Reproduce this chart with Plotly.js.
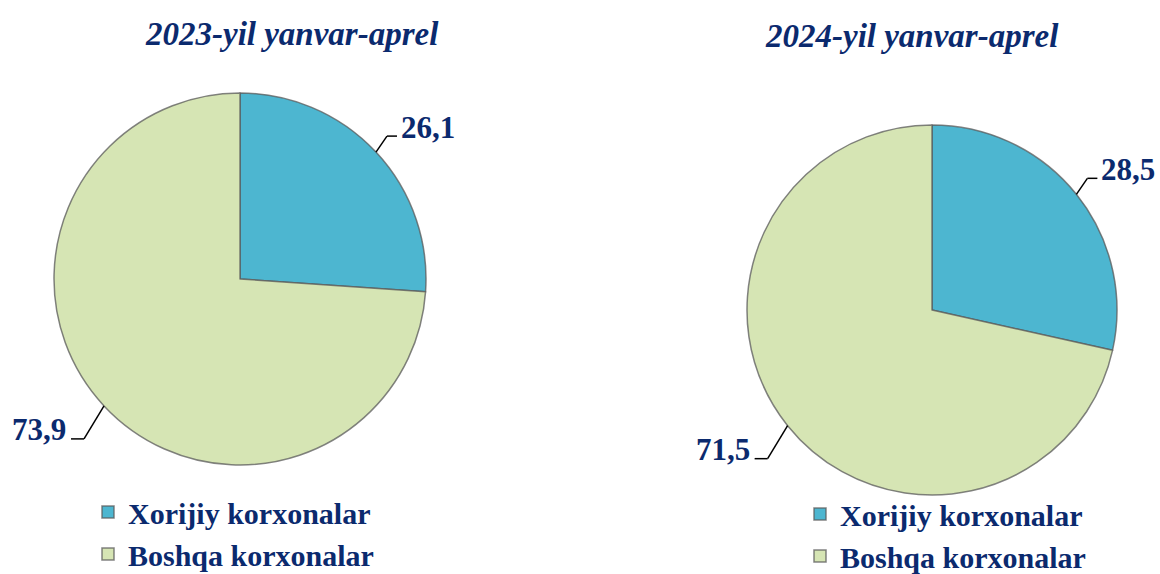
<!DOCTYPE html>
<html>
<head>
<meta charset="utf-8">
<script src="https://cdn.plot.ly/plotly-3.0.1.min.js"></script>
<style>html,body{margin:0;padding:0;background:#fff;}#chart{width:1160px;height:574px;}</style>
</head>
<body>
<div id="chart"></div>
<script>
// ---- data ----
const categories = ["Xorijiy korxonalar", "Boshqa korxonalar"];
const titles = ["2023-yil yanvar-aprel", "2024-yil yanvar-aprel"];
const values2023 = [26.1, 73.9];
const values2024 = [28.5, 71.5];

// ---- layout helpers ----
const W = 1160, H = 574;
const navy = "#0B2A6E";
const sliceColors = ["#4DB6D0", "#D6E5B4"];
const pies = [
  {vals: values2023, cx: 240, cy: 279, r: 186, title: titles[0], tx: 292, ty: 34, legend: "legend", group: "g2023"},
  {vals: values2024, cx: 932, cy: 310, r: 185, title: titles[1], tx: 912, ty: 36, legend: "legend2", group: "g2024"}
];
const px = x => x / W;
const py = y => 1 - y / H;

const data = [];
const shapes = [];
const annotations = [];

pies.forEach((p, i) => {
  data.push({
    type: "pie",
    labels: categories,
    values: p.vals,
    sort: false,
    direction: "clockwise",
    rotation: 0,
    textinfo: "none",
    marker: {colors: sliceColors, line: {color: "rgba(90,90,90,0.75)", width: 1.5}},
    domain: {x: [px(p.cx - p.r), px(p.cx + p.r)], y: [py(p.cy + p.r), py(p.cy - p.r)]},
    legend: p.legend,
    legendgroup: p.group,
    showlegend: true
  });
  annotations.push({
    text: p.title, xref: "paper", yref: "paper", x: px(p.tx), y: py(p.ty),
    xanchor: "center", yanchor: "middle", showarrow: false,
    font: {family: "Liberation Serif, Times New Roman, serif", size: 33, weight: "bold", style: "italic", color: navy}
  });
  const total = p.vals.reduce((a, b) => a + b, 0);
  let cum = 0;
  p.vals.forEach(v => {
    const th = 2 * Math.PI * (cum + v / 2) / total;
    cum += v;
    const s = Math.sin(th), c = Math.cos(th);
    const right = s > 0;
    // leader line: from slice edge at mid-angle, short diagonal, then horizontal
    const ex = p.cx + p.r * s, ey = p.cy - p.r * c;
    const bx = ex + (right ? 11 : -20), by = ey + (right ? -16 : 33);
    const hx = bx + (right ? 10 : -13);
    shapes.push({type: "line", xref: "paper", yref: "paper", x0: px(ex), y0: py(ey), x1: px(bx), y1: py(by), line: {color: "#000", width: 1.5}});
    shapes.push({type: "line", xref: "paper", yref: "paper", x0: px(bx), y0: py(by), x1: px(hx), y1: py(by), line: {color: "#000", width: 1.5}});
    annotations.push({
      text: v.toFixed(1).replace(".", ","), xref: "paper", yref: "paper",
      x: px(hx + (right ? 2 : -3)), y: py(by - 9),
      xanchor: right ? "left" : "right", yanchor: "middle", showarrow: false,
      font: {family: "Liberation Serif, Times New Roman, serif", size: 31, weight: "bold", color: navy}
    });
  });
});

const legendFont = {family: "Liberation Serif, Times New Roman, serif", size: 30, weight: "bold", color: navy};
const layout = {
  width: W, height: H,
  margin: {l: 0, r: 0, t: 0, b: 0, autoexpand: false},
  paper_bgcolor: "#fff",
  showlegend: true,
  legend: {x: px(88), y: py(486), xanchor: "left", yanchor: "top", font: legendFont, bgcolor: "rgba(0,0,0,0)", tracegroupgap: 0},
  legend2: {x: px(800), y: py(488), xanchor: "left", yanchor: "top", font: legendFont, bgcolor: "rgba(0,0,0,0)", tracegroupgap: 0},
  shapes: shapes,
  annotations: annotations
};

Plotly.newPlot("chart", data, layout, {displayModeBar: false, staticPlot: true});
</script>
</body>
</html>
